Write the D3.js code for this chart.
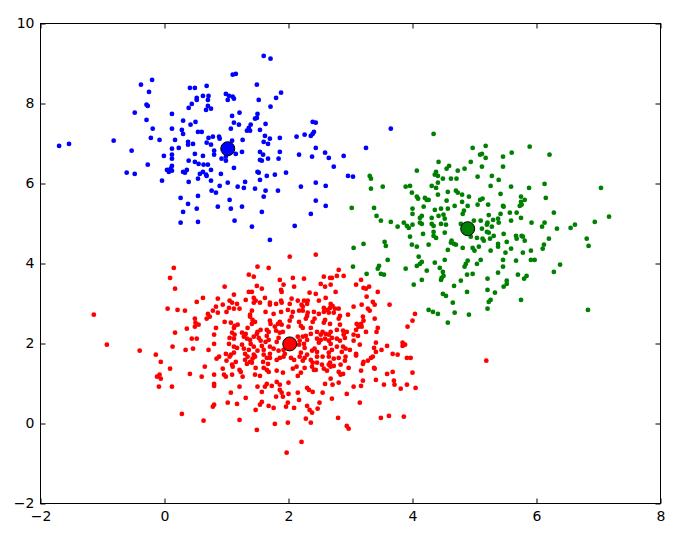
<!DOCTYPE html>
<html><head><meta charset="utf-8">
<script src="https://cdn.jsdelivr.net/npm/d3@7"></script>
<style>html,body{margin:0;padding:0;background:#fff}svg{display:block}</style>
</head><body><svg id="c" width="684" height="538"></svg>
<script>
const xTicks=[-2,0,2,4,6,8];
const yTicks=[-2,0,2,4,6,8,10];
const seriesNames=["blue","green","red"];
const seriesColors=["#0000ff","#008000","#ff0000"];
const centers=[[1.02,6.87],[4.89,4.87],[2.02,1.99]];
const bluePoints=[[-1.70,6.94],[-1.54,6.99],[-0.82,7.07],[-0.53,6.82],[-0.61,6.27],[-0.48,6.24],[-0.48,7.77],[-0.38,8.47],[-0.20,8.59],[-0.25,8.29],[-0.29,7.97],[-0.27,7.94],[-0.29,7.59],[-0.19,7.37],[-0.22,7.14],[-0.08,7.09],[-0.27,6.47],[-0.04,6.07],[-0.01,6.69],[0.12,7.74],[0.12,7.37],[0.17,7.09],[0.12,6.87],[0.23,6.89],[0.12,6.72],[0.12,6.62],[0.04,6.34],[0.07,6.29],[0.10,6.37],[0.12,6.44],[0.12,6.32],[0.30,7.57],[0.28,7.34],[0.30,7.24],[0.38,7.04],[0.38,6.97],[0.46,6.99],[0.39,6.57],[0.30,6.29],[0.33,6.27],[0.36,6.34],[0.39,6.04],[0.26,5.64],[0.38,5.49],[0.30,5.29],[0.26,5.02],[0.52,5.37],[0.54,5.04],[0.54,5.69],[0.41,8.39],[0.49,8.39],[0.52,8.14],[0.52,8.09],[0.44,7.99],[0.39,7.89],[0.42,7.47],[0.50,7.54],[0.54,7.29],[0.49,6.74],[0.49,6.54],[0.55,6.49],[0.54,6.12],[0.57,6.24],
[1.60,9.19],[1.71,9.12],[1.10,8.72],[1.15,8.74],[0.68,8.44],[1.49,8.47],[1.88,8.27],[1.80,8.14],[0.99,8.24],[1.04,8.19],[1.10,8.17],[1.02,8.09],[1.12,8.12],[0.62,8.19],[0.71,8.19],[0.70,8.09],[0.67,7.84],[0.75,7.87],[0.70,7.94],[1.52,8.09],[1.71,7.92],[1.21,7.77],[1.09,7.69],[1.50,7.74],[1.46,7.62],[1.49,7.64],[1.12,7.52],[1.20,7.47],[1.39,7.47],[1.36,7.39],[1.33,7.32],[1.38,7.32],[1.07,7.37],[1.63,7.49],[1.54,7.34],[0.60,7.29],[0.71,7.14],[0.78,7.17],[0.88,7.17],[0.89,7.12],[1.09,7.07],[1.26,7.09],[1.62,7.19],[1.70,7.12],[1.60,7.04],[1.67,6.99],[1.86,7.14],[2.13,7.17],[2.26,7.22],[2.36,7.19],[2.39,7.24],[2.41,7.29],[2.39,7.54],[2.44,7.52],[0.68,7.02],[0.75,6.97],[0.80,6.82],[0.80,6.72],[0.62,6.69],[0.92,6.62],[0.99,6.57],[0.99,6.67],[1.15,6.74],[1.25,6.79],[1.54,6.79],[1.59,6.72],[1.54,6.59],[1.57,6.57],[1.67,6.62],[1.86,6.79],[1.84,6.62],[2.17,6.72],[2.38,6.67],[2.44,6.89],[2.59,6.77],[2.65,6.64],[2.73,6.42],[2.89,6.69],[3.25,6.89],[2.96,6.19],[3.04,6.17],[0.63,6.47],[0.70,6.47],[0.75,6.34],[0.62,6.29],[0.67,6.22],[0.68,6.19],[1.12,6.39],[0.91,6.24],[0.75,6.07],[0.89,5.94],[1.02,6.02],[0.76,5.82],[0.83,5.77],[1.18,5.92],[1.28,5.89],[1.30,6.04],[1.50,6.29],[1.52,6.27],[1.54,6.09],[1.65,6.19],[1.78,6.22],[1.96,6.27],[1.46,5.87],[1.63,5.82],[1.83,5.82],[1.60,5.67],[2.20,5.92],[2.44,6.02],[2.60,5.94],[2.44,5.57],[2.60,5.44],[2.36,5.24],[1.05,5.59],[0.86,5.42],[1.07,5.37],[1.25,5.42],[1.57,5.29],[1.13,5.07],[1.41,4.92],[2.10,4.94],[1.70,4.59],[3.65,7.37]];
const greenPoints=[[4.34,7.24],[4.97,6.89],[5.18,6.94],[5.09,6.72],[5.12,6.74],[5.18,6.64],[4.42,6.54],[4.94,6.54],[4.59,6.44],[4.55,6.37],[4.73,6.32],[4.84,6.37],[5.12,6.42],[4.07,6.32],[4.38,6.29],[4.36,6.22],[4.41,6.19],[4.49,6.12],[4.62,6.12],[4.71,6.12],[5.05,6.17],[3.31,6.19],[3.33,6.12],[4.41,6.02],[4.31,5.94],[4.38,5.89],[3.89,5.92],[3.96,5.94],[3.52,5.92],[3.33,5.87],[3.99,5.77],[4.57,5.79],[4.70,5.82],[4.73,5.77],[4.80,5.72],[4.41,5.72],[4.07,5.67],[4.09,5.62],[4.20,5.64],[4.23,5.59],[4.26,5.59],[4.91,5.67],[5.09,5.59],[5.13,5.62],[4.55,5.57],[4.80,5.54],[3.02,5.39],[3.38,5.39],[4.00,5.37],[4.18,5.42],[4.36,5.34],[4.46,5.37],[4.57,5.37],[4.68,5.44],[4.89,5.44],[5.05,5.47],[5.22,5.47],[4.83,5.32],[4.81,5.24],[4.00,5.24],[3.42,5.19],[3.49,5.07],[3.65,5.04],[4.12,5.14],[4.15,5.19],[4.12,5.02],[4.15,4.99],[4.31,5.14],[4.42,5.19],[4.50,5.22],[4.52,5.12],[4.46,4.99],[4.54,4.97],[3.86,5.02],[3.91,4.94],[3.94,4.89],[4.00,4.97],[3.76,4.92],[4.31,4.99],[4.34,4.94],[4.78,4.99],[4.99,5.07],[5.10,5.07],[5.21,5.02],[5.20,4.97],[5.12,4.87],[5.20,4.79],[4.34,4.79],[4.34,4.69],[4.38,4.64],[4.52,4.77],[4.17,4.74],[3.96,4.67],[4.94,4.67],[5.04,4.64],[5.13,4.62],[5.15,4.57],[4.63,4.57],[4.67,4.49],[4.70,4.47],[4.62,4.52],[3.55,4.54],[3.57,4.44],[3.99,4.47],[4.07,4.42],[4.26,4.47],[3.21,4.49],[3.05,4.39],[4.57,4.34],[4.81,4.39],[4.97,4.39],[5.00,4.32],[5.07,4.42],[4.10,4.17],[3.60,4.09],[4.52,4.09],[4.36,4.02],[4.15,4.04],[4.12,3.99],[4.07,3.94],[4.89,4.07],[4.86,3.99],[4.84,3.92],[5.04,3.99],[3.46,3.94],[3.44,3.87],[3.89,3.87],[3.04,3.92],[4.44,3.89],[4.49,3.79],[4.50,3.69],[4.47,3.64],[4.46,3.59],[4.23,3.82],[3.49,3.74],[3.54,3.72],[3.26,3.74],[4.88,3.72],[4.97,3.74],[5.21,3.62],[4.15,3.59],[4.02,3.47],[4.78,3.57],[4.67,3.44],[5.21,3.34],[4.88,3.29],[4.49,3.24],[4.54,3.19],[5.23,3.04],[4.65,3.02],[4.26,2.84],[4.33,2.79],[4.41,2.74],[4.68,2.77],[4.91,2.72],[5.21,2.87],[4.57,2.52],
[5.60,6.77],[5.89,6.92],[5.46,6.67],[6.21,6.72],[5.46,6.42],[5.28,6.19],[5.39,6.09],[5.26,5.94],[5.59,5.92],[5.88,5.89],[6.13,5.99],[7.04,5.89],[5.42,5.74],[5.46,5.44],[5.47,5.42],[5.75,5.67],[5.81,5.59],[5.75,5.54],[5.76,5.47],[5.73,5.44],[6.15,5.64],[5.57,5.27],[5.68,5.27],[5.42,5.24],[5.23,5.21],[5.30,5.09],[5.38,5.12],[5.39,5.02],[6.28,5.27],[7.17,5.17],[6.94,5.04],[5.75,5.14],[5.59,5.07],[5.92,5.02],[6.13,5.02],[6.09,4.92],[6.33,4.87],[6.62,4.97],[6.55,4.89],[5.28,4.92],[5.23,4.77],[5.47,4.74],[5.31,4.69],[5.25,4.62],[5.67,4.69],[5.68,4.62],[5.76,4.69],[5.78,4.67],[5.81,4.57],[5.52,4.54],[5.38,4.49],[5.38,4.42],[6.20,4.62],[6.81,4.62],[6.12,4.47],[6.10,4.37],[6.84,4.44],[5.59,4.37],[5.26,4.32],[5.91,4.32],[5.50,4.27],[5.78,4.27],[5.10,4.09],[5.46,4.09],[5.46,3.92],[5.67,4.07],[5.91,4.09],[5.97,4.09],[6.38,3.97],[6.28,3.79],[5.38,3.77],[5.70,3.72],[5.84,3.69],[5.80,3.62],[5.52,3.57],[5.52,3.49],[5.47,3.42],[5.33,3.27],[5.26,3.09],[5.75,3.09],[6.83,2.84]];
const redPoints=[[0.15,3.89],[0.09,3.64],[0.17,3.37],[0.52,3.04],[-1.14,2.72],[0.05,2.87],[0.21,2.84],[0.33,2.82],[0.49,2.62],[0.50,2.52],[0.55,2.47],[0.49,2.42],[0.36,2.37],[0.17,2.27],[0.44,2.12],[0.52,2.12],[-0.93,1.97],[0.13,1.92],[0.34,1.84],[0.46,1.87],[-0.40,1.82],[-0.14,1.72],
[-0.06,1.54],[0.09,1.37],[0.41,1.24],[0.60,1.17],[-0.12,1.17],[-0.08,1.22],[-0.06,1.12],[-0.09,0.92],[0.12,0.92],[0.28,0.24],
[2.02,4.17],[2.44,4.22],[1.50,3.92],[1.68,3.89],[1.36,3.72],[1.44,3.67],[2.07,3.64],[2.25,3.62],[1.86,3.59],[0.97,3.42],[1.49,3.44],[1.57,3.37],[1.92,3.47],[1.89,3.29],[1.88,3.34],[2.09,3.42],[1.36,3.29],[1.41,3.29],[2.34,3.27],[2.44,3.24],[0.62,3.14],[0.86,3.12],[1.12,3.22],[1.05,3.07],[1.09,3.02],[1.31,3.09],[1.44,3.14],[1.47,3.07],[1.44,3.02],[1.54,3.02],[1.62,3.14],[1.70,3.02],[1.70,2.97],[1.80,2.99],[1.88,3.07],[1.89,3.02],[2.05,3.12],[2.02,2.99],[2.15,3.07],[2.21,2.97],[2.25,3.07],[2.31,3.07],[2.30,2.99],[2.23,2.92],[0.94,2.97],[0.83,2.92],[0.78,2.82],[0.86,2.77],[1.17,2.99],[1.12,2.87],[1.21,2.87],[1.00,2.79],[1.04,2.89],[0.70,2.74],[0.73,2.67],[0.68,2.62],[1.41,2.82],[1.38,2.72],[1.38,2.67],[1.63,2.79],[1.76,2.74],[1.88,2.79],[1.99,2.84],[2.07,2.79],[2.05,2.67],[2.02,2.57],[2.17,2.82],[2.23,2.82],[2.31,2.77],[2.30,2.69],[2.28,2.62],[2.41,2.79],[2.42,2.62],[2.39,2.54],[0.97,2.54],[1.07,2.52],[1.13,2.44],[1.18,2.47],[1.42,2.59],[1.46,2.54],[1.41,2.49],[1.70,2.57],[1.71,2.49],[1.78,2.42],[1.86,2.54],[1.83,2.49],[1.89,2.47],[2.00,2.42],[2.17,2.54],[2.20,2.44],[2.23,2.39],[2.36,2.39],[0.83,2.39],[0.80,2.22],[1.12,2.39],[1.09,2.27],[1.13,2.22],[1.34,2.39],[1.25,2.27],[1.31,2.24],[1.55,2.34],[1.50,2.29],[1.49,2.24],[1.65,2.34],[1.68,2.29],[1.80,2.32],[1.86,2.27],[1.91,2.29],[2.36,2.24],[2.28,2.19],[2.23,2.17],[1.05,2.14],[1.12,2.12],[1.28,2.17],[1.33,2.12],[1.38,2.09],[1.44,2.17],[1.52,2.14],[1.55,2.07],[1.65,2.19],[1.68,2.09],[1.63,2.04],[1.84,2.14],[1.81,2.04],[2.15,2.17],[2.18,2.07],[2.17,1.97],[2.30,2.09],[2.25,1.99],[0.80,1.99],[1.04,1.99],[1.12,1.92],[1.17,1.89],[1.25,1.97],[1.28,1.87],[1.39,1.99],[1.44,1.92],[1.36,1.84],[1.57,1.94],[1.60,1.84],[1.50,1.82],[1.70,1.92],[1.76,1.87],[1.84,1.82],[0.71,1.84],[2.26,1.89],[2.38,1.82],[2.42,1.87],[0.99,1.74],[1.07,1.72],[1.12,1.77],[1.30,1.74],[1.44,1.72],[1.60,1.72],[1.70,1.74],[1.92,1.84],[1.94,1.74],[2.20,1.77],[2.30,1.72],
[2.81,3.84],[2.57,3.67],[2.67,3.64],[2.70,3.64],[2.78,3.69],[2.89,3.69],[3.17,3.59],[2.52,3.49],[2.59,3.42],[2.68,3.47],[3.09,3.47],[3.21,3.39],[3.25,3.37],[3.30,3.42],[3.44,3.29],[2.76,3.29],[2.60,3.14],[3.26,3.17],[2.49,3.07],[2.68,2.99],[2.71,2.94],[2.67,2.89],[2.63,2.84],[2.75,2.87],[2.81,2.87],[2.57,2.89],[2.57,2.79],[2.49,2.74],[2.65,2.77],[2.73,2.77],[2.83,2.69],[2.81,2.62],[2.96,2.72],[3.05,2.92],[3.18,2.97],[3.36,3.04],[3.39,2.97],[3.63,2.97],[3.28,2.87],[3.31,2.82],[3.20,2.67],[3.21,2.57],[3.39,2.62],[4.04,2.74],[4.00,2.57],[3.92,2.42],[2.59,2.59],[2.57,2.52],[2.67,2.49],[2.83,2.47],[2.78,2.34],[3.10,2.49],[3.17,2.49],[3.13,2.42],[3.09,2.34],[3.18,2.42],[3.25,2.29],[3.44,2.39],[3.42,2.29],[2.46,2.29],[2.55,2.29],[2.52,2.22],[2.60,2.24],[2.65,2.22],[2.68,2.29],[2.88,2.32],[2.94,2.29],[2.89,2.22],[3.05,2.22],[3.12,2.19],[2.46,2.12],[2.52,2.09],[2.49,2.02],[2.59,2.12],[2.65,2.07],[2.70,2.14],[2.68,1.99],[2.78,2.12],[2.83,2.07],[2.91,2.14],[3.05,2.07],[3.15,1.97],[3.41,2.02],[3.59,1.94],[3.84,2.02],[3.88,1.97],[3.84,1.94],[2.78,1.92],[2.88,1.92],[2.92,1.87],[2.86,1.79],[2.99,1.84],[2.59,1.89],[2.70,1.84],[2.65,1.77],[2.46,1.79],[3.38,1.89],[3.41,1.79],[3.50,1.84],[3.68,1.74],[3.76,1.72],[3.09,1.74],
[0.84,1.62],[0.88,1.67],[1.00,1.57],[1.05,1.67],[1.15,1.54],[1.30,1.59],[1.34,1.67],[1.38,1.54],[1.42,1.62],[1.46,1.67],[1.41,1.52],[1.33,1.49],[1.59,1.54],[1.65,1.64],[1.70,1.64],[1.67,1.49],[1.81,1.59],[1.86,1.64],[1.92,1.67],[2.04,1.64],[2.09,1.59],[2.18,1.67],[2.23,1.57],[2.26,1.64],[2.36,1.59],[2.39,1.52],[2.38,1.42],[0.65,1.42],[0.94,1.37],[1.09,1.47],[1.10,1.42],[1.21,1.34],[1.23,1.29],[1.47,1.39],[1.60,1.39],[1.65,1.34],[1.68,1.29],[1.81,1.32],[1.91,1.27],[2.07,1.37],[2.13,1.42],[2.20,1.27],[2.15,1.19],[2.26,1.39],[2.41,1.34],[0.80,1.22],[0.96,1.22],[0.99,1.17],[1.09,1.22],[1.26,1.17],[1.46,1.22],[1.54,1.19],[0.80,0.99],[0.80,0.94],[1.21,0.92],[1.50,0.92],[1.57,0.79],[1.62,0.92],[1.65,0.99],[1.73,0.94],[1.81,1.04],[1.86,0.97],[2.00,1.02],[1.86,0.84],[1.89,0.77],[1.80,0.67],[2.00,0.74],[1.91,0.67],[2.15,0.77],[2.30,0.89],[2.33,0.84],[2.39,0.79],[1.07,0.77],[1.31,0.64],[1.02,0.52],[0.80,0.47],[0.78,0.42],[1.17,0.49],[1.57,0.54],[1.54,0.47],[1.47,0.34],[1.68,0.44],[1.76,0.39],[1.99,0.52],[1.96,0.42],[2.09,0.39],[2.17,0.59],[2.30,0.44],[2.34,0.34],[2.38,0.27],[0.63,0.07],[1.21,0.09],[1.78,-0.01],[1.99,0.02],[2.28,0.12],[2.36,0.02],[1.49,-0.16],[2.21,-0.46],[1.97,-0.73],
[2.46,1.67],[2.55,1.67],[2.65,1.67],[2.73,1.62],[2.81,1.64],[2.92,1.67],[2.91,1.57],[3.09,1.70],[2.46,1.52],[2.54,1.47],[2.57,1.37],[2.62,1.32],[2.67,1.52],[2.68,1.42],[2.73,1.44],[2.65,1.47],[2.84,1.47],[2.97,1.39],[2.44,1.34],[2.81,1.29],[2.84,1.22],[2.88,1.24],[2.68,1.12],[2.59,0.99],[2.71,0.97],[2.81,1.02],[3.17,1.32],[3.21,1.54],[3.28,1.57],[3.33,1.64],[3.36,1.67],[3.20,1.49],[3.38,1.39],[3.39,1.37],[3.91,1.64],[3.97,1.64],[3.59,1.24],[3.68,1.29],[4.00,1.27],[3.20,1.07],[3.17,0.94],[3.05,0.92],[3.41,1.09],[3.54,0.97],[3.70,1.07],[3.71,0.97],[3.81,0.87],[3.91,0.97],[4.05,0.89],[2.55,0.77],[2.94,0.74],[2.70,0.62],[2.50,0.52],[2.47,0.37],[3.15,0.52],[2.80,0.14],[2.94,-0.06],[2.97,-0.13],[3.49,0.14],[3.62,0.19],[3.86,0.17],[5.19,1.57]];

const W=684,H=538;
const x=d3.scaleLinear().domain([-2,8]).range([40.5,660.5]);
const y=d3.scaleLinear().domain([-2,10]).range([503.5,23.5]);
const svg=d3.select("#c");
const font='"DejaVu Sans", sans-serif';

const series=[bluePoints,greenPoints,redPoints];
series.forEach((pts,i)=>{
  svg.append("g").attr("class","pts-"+seriesNames[i])
    .selectAll("circle").data(pts).join("circle")
    .attr("cx",d=>x(d[0])).attr("cy",d=>y(d[1])).attr("r",2.4)
    .attr("fill",seriesColors[i]);
});
svg.append("g").selectAll("circle").data(centers).join("circle")
  .attr("cx",d=>x(d[0])).attr("cy",d=>y(d[1])).attr("r",7)
  .attr("fill",(d,i)=>seriesColors[i]).attr("stroke","#000").attr("stroke-width",1);

function style(g){
  g.select(".domain").remove();
  g.selectAll("line").attr("stroke","#000").attr("stroke-width",1);
  g.selectAll("text").attr("font-family",font).attr("font-size",14).attr("fill","#000");
}
svg.append("g").attr("transform","translate(0,503.5)")
  .call(d3.axisBottom(x).tickValues(xTicks).tickSizeInner(-5).tickSizeOuter(0).tickPadding(8)).call(style);
svg.append("g").attr("transform","translate(0,23.5)")
  .call(d3.axisTop(x).tickValues(xTicks).tickSizeInner(-5).tickSizeOuter(0).tickFormat("")).call(style);
svg.append("g").attr("transform","translate(40.5,0)")
  .call(d3.axisLeft(y).tickValues(yTicks).tickSizeInner(-5).tickSizeOuter(0).tickPadding(6)).call(style);
svg.append("g").attr("transform","translate(660.5,0)")
  .call(d3.axisRight(y).tickValues(yTicks).tickSizeInner(-5).tickSizeOuter(0).tickFormat("")).call(style);

svg.append("rect").attr("x",x(-2)).attr("y",y(10)).attr("width",x(8)-x(-2)).attr("height",y(-2)-y(10))
  .attr("fill","none").attr("stroke","#000").attr("stroke-width",1);
</script></body></html>
